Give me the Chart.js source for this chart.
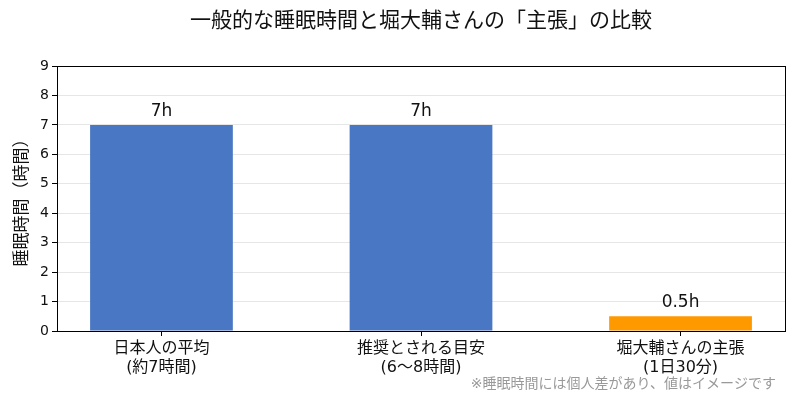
<!DOCTYPE html>
<html>
<head>
<meta charset="utf-8">
<script src="https://cdn.jsdelivr.net/npm/chart.js@4/dist/chart.umd.min.js"></script>
<style>
  html, body { margin: 0; padding: 0; background: #fff; }
  #wrap { width: 800px; height: 420px; }
</style>
</head>
<body>
<div id="wrap"><canvas id="c"></canvas></div>
<script>
// data
const categories = [
  ["日本人の平均", "(約7時間)"],
  ["推奨とされる目安", "(6〜8時間)"],
  ["堀大輔さんの主張", "(1日30分)"],
];
const sleepHours = [7, 7, 0.5];
const barColors = ["#4a77c4", "#4a77c4", "#ff9900"];
const yTicks = [0, 1, 2, 3, 4, 5, 6, 7, 8, 9];
const titleText = "一般的な睡眠時間と堀大輔さんの「主張」の比較";
const footnote = "※睡眠時間には個人差があり、値はイメージです";

const FONT = "'DejaVu Sans', 'Noto Sans CJK JP', sans-serif";

// title over the plot, frame, value labels, footnote
const extras = {
  id: "extras",
  afterDatasetsDraw(chart) {
    const { ctx, chartArea: a } = chart;
    ctx.save();
    ctx.strokeStyle = "#000";
    ctx.lineWidth = 1;
    ctx.strokeRect(a.left + 0.5, a.top + 0.5, a.right - a.left, a.bottom - a.top);

    ctx.fillStyle = "#111";
    ctx.font = "21px " + FONT;
    ctx.textAlign = "center";
    ctx.textBaseline = "middle";
    ctx.fillText(titleText, (a.left + a.right) / 2, 22);

    const meta = chart.getDatasetMeta(0);
    ctx.font = "17px " + FONT;
    ctx.textBaseline = "bottom";
    meta.data.forEach((bar, i) => {
      ctx.fillText(sleepHours[i] + "h", bar.x, bar.y - 5);
    });

    ctx.fillStyle = "#999";
    ctx.font = "14px " + FONT;
    ctx.textAlign = "right";
    ctx.textBaseline = "middle";
    ctx.fillText(footnote, 776, 384);
    ctx.restore();
  },
};

new Chart(document.getElementById("c"), {
  type: "bar",
  data: {
    datasets: [{
      data: sleepHours.map((v, i) => ({ x: i, y: v })),
      backgroundColor: barColors,
      borderWidth: 0,
      categoryPercentage: 1,
      barPercentage: 0.55,
    }],
  },
  options: {
    responsive: true,
    maintainAspectRatio: false,
    animation: false,
    layout: { padding: { left: 0, right: 15, top: 66, bottom: 0 } },
    plugins: {
      legend: { display: false },
      tooltip: { enabled: false },
      title: { display: false },
    },
    scales: {
      x: {
        type: "linear",
        offset: false,
        bounds: "ticks",
        min: -0.4025,
        max: 2.4025,
        afterBuildTicks(scale) {
          scale.ticks = categories.map((_, i) => ({ value: i }));
        },
        afterFit(scale) { scale.height = 89; },
        ticks: {
          color: "#111",
          font: { family: FONT, size: 16, lineHeight: 1.15 },
          padding: 4,
          maxRotation: 0,
          autoSkip: false,
          callback: (v) => categories[v],
        },
        grid: {
          offset: false,
          drawOnChartArea: false,
          drawTicks: true,
          tickLength: 5,
          tickColor: "#000",
        },
        border: { display: false },
      },
      y: {
        min: 0,
        max: 9,
        afterBuildTicks(scale) {
          scale.ticks = yTicks.map((v) => ({ value: v }));
        },
        afterFit(scale) { scale.width = 57; },
        ticks: {
          color: "#111",
          font: { family: FONT, size: 14 },
          padding: 3,
        },
        grid: {
          color: "#e6e6e6",
          tickColor: "#000",
          tickLength: 5,
        },
        border: { display: false },
        title: {
          display: true,
          text: "睡眠時間（時間）",
          color: "#111",
          font: { family: FONT, size: 17 },
          padding: { top: 12, bottom: 0 },
        },
      },
    },
  },
  plugins: [extras],
});
</script>
</body>
</html>
